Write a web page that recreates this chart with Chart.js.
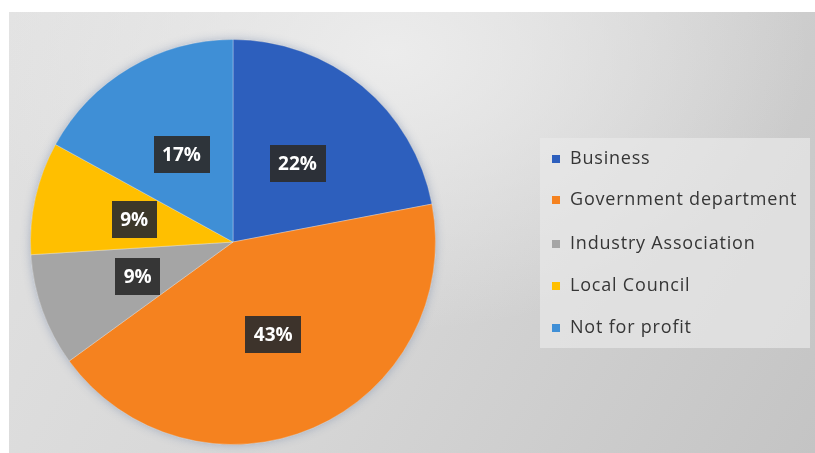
<!DOCTYPE html>
<html>
<head>
<meta charset="utf-8">
<script src="https://cdn.jsdelivr.net/npm/chart.js@4.4.0/dist/chart.umd.min.js"></script>
<style>
  body { margin: 0; background: #fff; }
  .page { position: relative; width: 815px; height: 453px; overflow: hidden; background: #fff; }
  .panel {
    position: absolute; left: 9px; top: 12px; width: 806px; height: 441px;
    background:
      radial-gradient(ellipse 420px 280px at 380px 40px, rgba(238,238,238,0.9), rgba(238,238,238,0) 100%),
      linear-gradient(120deg, #e2e2e2 0%, #d6d6d6 50%, #c4c4c4 100%);
  }
  #chart { position: absolute; left: 0; top: 0; }
  .legend {
    position: absolute; left: 540px; top: 138px; width: 270px; height: 210px;
    background: rgba(232,232,232,0.7);
    font-family: "Open Sans", sans-serif; font-size: 18px; letter-spacing: 0.8px; color: #363636;
  }
  .legend-row { position: absolute; left: 12px; height: 24px; line-height: 24px; white-space: nowrap; }
  .legend-row i { display: inline-block; width: 8px; height: 8px; margin-right: 10px; vertical-align: 1px; }
</style>
</head>
<body>
<div class="page">
  <div class="panel"></div>
  <canvas id="chart" width="815" height="453"></canvas>
  <div class="legend"></div>
</div>
<script>
const categories = ['Business', 'Government department', 'Industry Association', 'Local Council', 'Not for profit']
const shares = [22, 43, 9, 9, 17]
const sliceColors = ['#2d5fbd', '#f5821f', '#a5a5a5', '#ffbf00', '#3f8fd6']

const ctx = document.getElementById('chart').getContext('2d')

const pieHalo = {
    id: 'pieHalo',
    beforeDatasetsDraw(chart) {
        const arc = chart.getDatasetMeta(0).data[0]
        const c = chart.ctx
        c.save()
        c.shadowColor = 'rgba(60,90,140,0.35)'
        c.shadowBlur = 10
        c.fillStyle = '#999'
        c.beginPath()
        c.arc(arc.x, arc.y, arc.outerRadius, 0, Math.PI * 2)
        c.fill()
        c.restore()
    }
}

const pctLabels = {
    id: 'pctLabels',
    afterDatasetsDraw(chart) {
        const c = chart.ctx
        const meta = chart.getDatasetMeta(0)
        c.save()
        c.font = 'bold 19px "Open Sans", sans-serif'
        c.textAlign = 'center'
        c.textBaseline = 'middle'
        meta.data.forEach((arc, i) => {
            const pos = arc.tooltipPosition()
            const text = shares[i] + '%'
            const w = c.measureText(text).width + 17
            const h = 37
            c.fillStyle = 'rgba(45,45,45,0.92)'
            c.fillRect(Math.round(pos.x - w / 2), Math.round(pos.y - h / 2), Math.round(w), h)
            c.fillStyle = '#ffffff'
            c.fillText(text, pos.x, pos.y + 1)
        })
        c.restore()
    }
}

new Chart(ctx, {
    type: 'pie',
    data: {
        labels: categories,
        datasets: [{
            data: shares,
            backgroundColor: sliceColors,
            borderColor: 'rgba(255,255,255,0.3)',
            borderWidth: 1
        }]
    },
    options: {
        responsive: false,
        animation: false,
        layout: { padding: { left: 30, right: 379, top: 39, bottom: 8 } },
        plugins: {
            legend: { display: false },
            tooltip: { enabled: false }
        }
    },
    plugins: [pieHalo, pctLabels]
})

const legend = document.querySelector('.legend')
const rowTops = [7, 48, 92, 134, 176]
categories.forEach((name, i) => {
    legend.innerHTML += `<div class="legend-row" style="top:${rowTops[i]}px"><i style="background:${sliceColors[i]}"></i>${name}</div>`
})
</script>
</body>
</html>
